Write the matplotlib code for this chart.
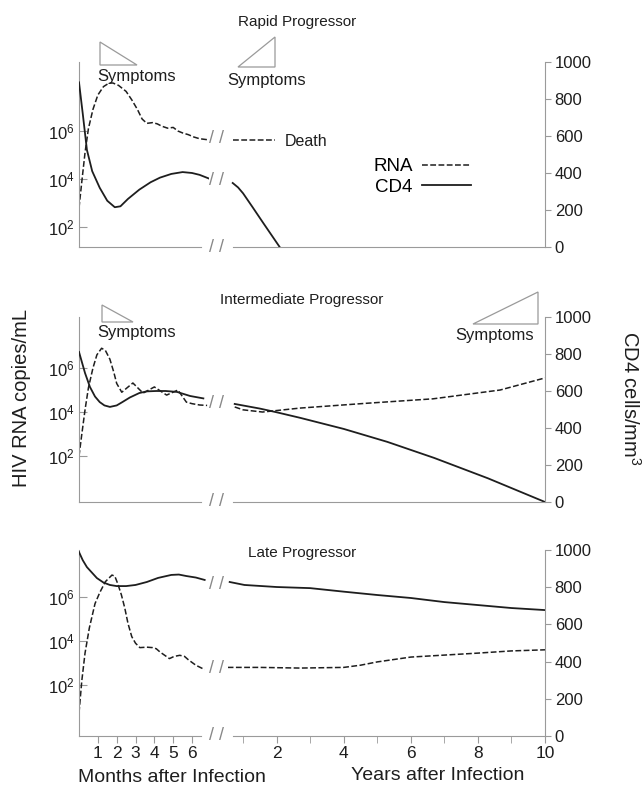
import numpy as np
import matplotlib.pyplot as plt
from matplotlib.lines import Line2D
from matplotlib.patches import Polygon
from matplotlib.ticker import NullLocator

plt.rcParams['font.family'] = ['Liberation Sans', 'DejaVu Sans']
plt.rcParams['mathtext.fontset'] = 'custom'
plt.rcParams['mathtext.rm'] = 'Liberation Sans'
plt.rcParams['mathtext.it'] = 'Liberation Sans:italic'

W, H = 644, 786
INK = '#1e1e1e'
AXC = '#9a9a9a'
DASH = (0, (3.8, 1.6))

# RNA values are log10 copies/mL, CD4 in cells/mm3
# months part -> x in months, years part -> x in years

# rapid progressor
rapid_rna_mo_t = [0, 0.15, 0.32, 0.5, 0.74, 1.0, 1.3, 1.6, 1.8, 2.1, 2.5, 2.8, 3.1, 3.35,
                  3.6, 3.9, 4.15, 4.4, 4.7, 5.0, 5.25, 5.5, 5.8, 6.1, 6.4, 6.9]
rapid_rna_mo = [2.8, 3.9, 5.1, 6.1, 6.9, 7.5, 7.85, 8.0, 8.0, 7.9, 7.65, 7.3, 6.9, 6.5,
                6.32, 6.35, 6.3, 6.2, 6.12, 6.15, 6.0, 5.92, 5.85, 5.75, 5.68, 5.63]
rapid_cd4_mo_t = [0, 0.2, 0.42, 0.7, 1.1, 1.5, 1.9, 2.2, 2.6, 3.2, 3.8, 4.3, 4.9, 5.5, 6.0, 6.4, 6.9]
rapid_cd4_mo = [890, 720, 525, 410, 320, 250, 215, 220, 260, 310, 350, 375, 395, 405, 400, 390, 370]
rapid_rna_yr_t = [0.69, 1.95]
rapid_rna_yr = [5.62, 5.62]
rapid_cd4_yr_t = [0.69, 0.85, 1.0, 1.28, 1.6, 2.09]
rapid_cd4_yr = [346, 322, 290, 216, 130, 0]

# intermediate progressor
inter_rna_mo_t = [0, 0.15, 0.32, 0.5, 0.74, 0.95, 1.2, 1.4, 1.64, 1.85, 2.0, 2.27, 2.55, 2.86,
                  3.4, 4.0, 4.65, 5.25, 5.7, 6.0, 6.4, 6.8]
inter_rna_mo = [2.0, 3.0, 4.1, 5.1, 6.0, 6.6, 6.9, 6.8, 6.4, 5.8, 5.3, 4.9, 5.1, 5.32,
                4.86, 5.14, 4.77, 5.0, 4.45, 4.38, 4.32, 4.3]
inter_cd4_mo_t = [0, 0.32, 0.58, 0.85, 1.1, 1.35, 1.64, 2.0, 2.3, 2.7, 3.2, 3.6, 4.1, 4.6, 5.2, 5.9, 6.6]
inter_cd4_mo = [811, 697, 622, 570, 540, 522, 514, 522, 540, 565, 589, 598, 600, 600, 595, 573, 560]
inter_rna_yr_t = [0.75, 1.0, 1.58, 2.7, 4.7, 6.66, 8.66, 10]
inter_rna_yr = [4.23, 4.1, 4.0, 4.18, 4.4, 4.6, 5.0, 5.55]
inter_cd4_yr_t = [0.75, 1.5, 2.0, 2.7, 4.0, 5.3, 6.7, 8.3, 10]
inter_cd4_yr = [530, 505, 485, 455, 395, 325, 238, 128, 0]

# late progressor
late_rna_mo_t = [0, 0.15, 0.32, 0.55, 0.85, 1.1, 1.4, 1.75, 1.9, 2.06, 2.25, 2.43, 2.6, 2.8,
                 3.0, 3.23, 3.6, 3.9, 4.1, 4.3, 4.8, 5.05, 5.35, 5.6, 5.8, 6.2, 6.67]
late_rna_mo = [0.73, 2.2, 3.45, 4.6, 5.7, 6.2, 6.7, 7.0, 6.95, 6.6, 6.1, 5.5, 4.8, 4.2,
               3.9, 3.7, 3.72, 3.7, 3.65, 3.5, 3.2, 3.3, 3.35, 3.3, 3.15, 2.9, 2.7]
late_cd4_mo_t = [0, 0.2, 0.42, 0.95, 1.3, 1.64, 2.0, 2.5, 3.0, 3.6, 4.2, 4.9, 5.3, 5.7, 6.2, 6.67]
late_cd4_mo = [989, 945, 908, 849, 825, 812, 806, 806, 812, 828, 850, 866, 868, 860, 852, 839]
late_rna_yr_t = [0.54, 1.5, 2.7, 4.0, 4.5, 5.0, 6.0, 7.0, 8.0, 9.0, 10]
late_rna_yr = [2.8, 2.8, 2.77, 2.8, 2.9, 3.05, 3.27, 3.36, 3.45, 3.55, 3.6]
late_cd4_yr_t = [0.6, 1.04, 2, 3, 4, 5, 6, 7, 8, 9, 10]
late_cd4_yr = [828, 812, 801, 795, 776, 758, 742, 720, 704, 688, 677]

rna_ticks = [1e2, 1e4, 1e6]
rna_ticklabels = ['$10^{2}$', '$10^{4}$', '$10^{6}$']
cd4_ticks = [0, 200, 400, 600, 800, 1000]
month_ticks = [1, 2, 3, 4, 5, 6]
year_ticks = [2, 4, 6, 8, 10]
year_minor = [1, 3, 5, 7, 9]

fig = plt.figure(figsize=(W / 100, H / 100), dpi=100)


def fx(px):
    return px / W


def fy(py):
    return 1 - py / H


def triangle(pts):
    fig.add_artist(Polygon([(fx(a), fy(b)) for a, b in pts], closed=True, fill=False,
                           ec=AXC, lw=0.9, transform=fig.transFigure))


def brk(ax, x, y):
    ax.text(x, y, '/ /', ha='center', va='center', fontsize=13, color='#888888',
            clip_on=False)


def panel(top, bot, rna_lim, data, gaps, last=False):
    y0, h = fy(bot), (bot - top) / H
    axm = fig.add_axes([fx(79), y0, fx(130), h])
    axy = fig.add_axes([fx(228), y0, fx(317), h])
    rm_t, rm, cm_t, cmv, ry_t, ry, cy_t, cyv = data
    out = []
    for ax, xl, bnd in [(axm, (0, 6.9), (0, 6.45)), (axy, (0.55, 10), (0.7, 10))]:
        ax.set_yscale('log')
        ax.set_ylim(10 ** rna_lim[0], 10 ** rna_lim[1])
        ax.set_xlim(*xl)
        ax.yaxis.set_minor_locator(NullLocator())
        for s in ['top', 'right', 'left']:
            ax.spines[s].set_visible(False)
        ax.spines['bottom'].set_color(AXC)
        ax.spines['bottom'].set_bounds(*bnd)
        ax.patch.set_visible(False)
        tw = ax.twinx()
        tw.set_ylim(0, 1000)
        for s in tw.spines.values():
            s.set_visible(False)
        tw.tick_params(axis='y', right=False, labelright=False)
        out.append(tw)
    cmx, cyx = out

    axm.spines['left'].set_visible(True)
    axm.spines['left'].set_color(AXC)
    axm.set_yticks(rna_ticks, rna_ticklabels)
    axm.tick_params(axis='y', direction='in', length=6, color=AXC, labelsize=12,
                    labelcolor=INK, pad=3)
    axy.tick_params(axis='y', left=False, labelleft=False)

    cyx.spines['right'].set_visible(True)
    cyx.spines['right'].set_color(AXC)
    cyx.set_yticks(cd4_ticks)
    cyx.tick_params(axis='y', right=True, labelright=True, direction='out', length=4,
                    color=AXC, labelsize=12, labelcolor=INK, pad=3)

    if last:
        axm.set_xticks(month_ticks)
        axy.set_xticks(year_ticks)
        axy.set_xticks(year_minor, minor=True)
        for ax in (axm, axy):
            ax.tick_params(axis='x', which='both', direction='out', length=5, color=AXC,
                           labelsize=12.5, labelcolor=INK, pad=2)
    else:
        axm.set_xticks([])
        axy.set_xticks([])

    axm.plot(rm_t, 10.0 ** np.array(rm), color=INK, lw=1.1, ls=DASH)
    axy.plot(ry_t, 10.0 ** np.array(ry), color=INK, lw=1.1, ls=DASH)
    cmx.plot(cm_t, cmv, color=INK, lw=1.3)
    cyx.plot(cy_t, cyv, color=INK, lw=1.3)

    # break marks between months and years
    for kind, v in gaps:
        if kind == 'rna':
            brk(axm, 7.3, 10 ** v)
        else:
            brk(cmx, 7.3, v)
    brk(cmx, 7.3, 0)
    return cyx


leg_ax = panel(62, 247, (1.17, 8.875),
               [rapid_rna_mo_t, rapid_rna_mo, rapid_cd4_mo_t, rapid_cd4_mo,
                rapid_rna_yr_t, rapid_rna_yr, rapid_cd4_yr_t, rapid_cd4_yr],
               [('rna', 5.7), ('cd4', 362)])
panel(317, 502, (-0.09, 8.32),
      [inter_rna_mo_t, inter_rna_mo, inter_cd4_mo_t, inter_cd4_mo,
       inter_rna_yr_t, inter_rna_yr, inter_cd4_yr_t, inter_cd4_yr],
      [('cd4', 530)])
panel(550, 736, (-0.32, 8.14),
      [late_rna_mo_t, late_rna_mo, late_cd4_mo_t, late_cd4_mo,
       late_rna_yr_t, late_rna_yr, late_cd4_yr_t, late_cd4_yr],
      [('cd4', 812), ('rna', 2.77)], last=True)

# titles and annotations
fig.text(fx(297), fy(22), 'Rapid Progressor', ha='center', va='center', fontsize=11, color=INK)
fig.text(fx(302), fy(300), 'Intermediate Progressor', ha='center', va='center', fontsize=11, color=INK)
fig.text(fx(302), fy(553), 'Late Progressor', ha='center', va='center', fontsize=11, color=INK)

triangle([(100, 42), (100, 65), (137, 65)])
triangle([(275, 37), (275, 67), (238, 67)])
triangle([(102, 305), (102, 322), (133, 322)])
triangle([(538, 292), (538, 324), (473, 324)])
for x, y in [(137, 76), (267, 80), (137, 333), (495, 335)]:
    fig.text(fx(x), fy(y), 'Symptoms', ha='center', va='center', fontsize=12, color=INK)
fig.text(fx(285), fy(141), 'Death', ha='left', va='center', fontsize=11.5, color=INK)

handles = [Line2D([], [], color=INK, lw=1.1, ls=DASH), Line2D([], [], color=INK, lw=1.3)]
leg_ax.legend(handles, ['RNA', 'CD4'], loc='center', bbox_to_anchor=(fx(422), fy(177)),
              bbox_transform=fig.transFigure, frameon=False, markerfirst=False,
              fontsize=13.5, handlelength=2.6, labelspacing=0.2, handletextpad=0.5)

fig.text(fx(22), fy(398), 'HIV RNA copies/mL', rotation=90, ha='center', va='center',
         fontsize=14.5, color=INK)
fig.text(fx(630), fy(398), 'CD4 cells/mm$^{3}$', rotation=270, ha='center', va='center',
         fontsize=14.5, color=INK)
fig.text(fx(172), fy(777), 'Months after Infection', ha='center', va='center', fontsize=14, color=INK)
fig.text(fx(438), fy(775), 'Years after Infection', ha='center', va='center', fontsize=14, color=INK)

fig.savefig('out.png', dpi=100, facecolor='white')
